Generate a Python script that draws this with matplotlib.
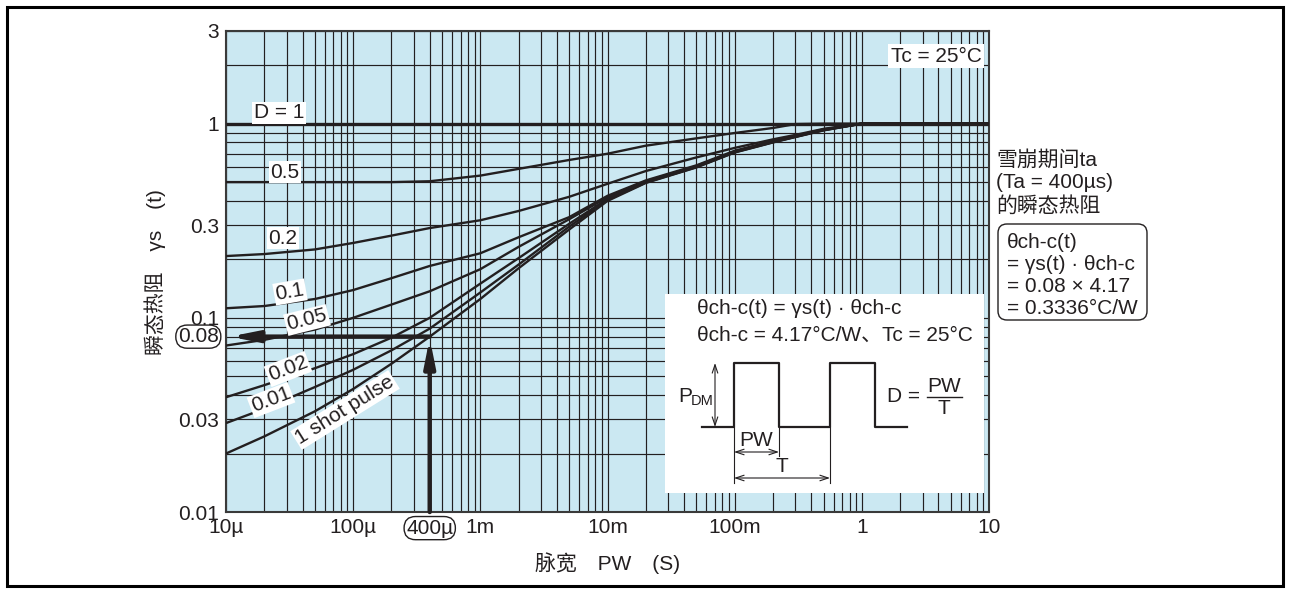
import numpy as np
import matplotlib
matplotlib.use('Agg')
import matplotlib.pyplot as plt
from matplotlib.patches import FancyBboxPatch, Rectangle
from matplotlib.ticker import FixedLocator, NullFormatter
import matplotlib.transforms as mtransforms

plt.rcParams['font.family'] = ['Liberation Sans', 'Noto Sans CJK SC', 'DejaVu Sans']

# ---------------- data ----------------
pw = [1e-5, 2e-5, 5e-5, 1e-4, 2e-4, 4e-4, 1e-3, 2e-3, 5e-3, 1e-2, 2e-2, 5e-2,
      0.1, 0.2, 0.3, 0.5, 1, 10]
r_d1     = [1, 1, 1, 1, 1, 1, 1, 1, 1, 1, 1, 1, 1, 1, 1, 1, 1, 1]
r_d05    = [0.5, 0.5, 0.5, 0.5, 0.5, 0.505, 0.54, 0.585, 0.65, 0.70, 0.77, 0.84,
            0.895, 0.95, 0.995, 1.0, 1.0, 1.0]
r_d02    = [0.208, 0.213, 0.225, 0.243, 0.265, 0.29, 0.318, 0.355, 0.42, 0.49, 0.57,
            0.67, 0.75, 0.83, 0.875, 0.94, 1.0, 1.0]
r_d01    = [0.112, 0.115, 0.125, 0.139, 0.160, 0.185, 0.215, 0.26, 0.33, 0.425, 0.51,
            0.61, 0.725, 0.815, 0.865, 0.935, 1.0, 1.0]
r_d005   = [0.072, 0.077, 0.087, 0.100, 0.117, 0.137, 0.178, 0.232, 0.322, 0.418,
            0.505, 0.605, 0.72, 0.81, 0.86, 0.93, 1.0, 1.0]
r_d002   = [0.039, 0.045, 0.055, 0.065, 0.079, 0.100, 0.150, 0.203, 0.305, 0.41,
            0.50, 0.60, 0.715, 0.805, 0.857, 0.928, 1.0, 1.0]
r_d001   = [0.0287, 0.034, 0.044, 0.054, 0.068, 0.088, 0.135, 0.188, 0.295, 0.405,
            0.497, 0.597, 0.712, 0.802, 0.855, 0.925, 1.0, 1.0]
r_single = [0.020, 0.0245, 0.033, 0.043, 0.058, 0.080, 0.125, 0.18, 0.285, 0.40,
            0.495, 0.595, 0.71, 0.80, 0.853, 0.923, 1.0, 1.0]

x_ticks = [1e-5, 1e-4, 1e-3, 1e-2, 1e-1, 1, 10]
x_ticklabels = ['10µ', '100µ', '1m', '10m', '100m', '1', '10']
y_ticks = [0.01, 0.03, 0.1, 0.3, 1, 3]
y_ticklabels = ['0.01', '0.03', '0.1', '0.3', '1', '3']

ta = 4e-4          # avalanche period 400 µs
rs_ta = 0.08       # read-off value

# ---------------- figure ----------------
W, H = 1289, 592
fig = plt.figure(figsize=(W / 100, H / 100), dpi=100)
ink = '#231f20'
FS = 15

L, R, T, B = 226, 989, 31, 512
ax = fig.add_axes([L / W, 1 - B / H, (R - L) / W, (B - T) / H])
ax.set_facecolor('#cbe8f2')
ax.set_xscale('log')
ax.set_yscale('log')
ax.set_xlim(1e-5, 10)
ax.set_ylim(0.01, 3)

ax.xaxis.set_major_locator(FixedLocator(x_ticks))
ax.xaxis.set_minor_locator(FixedLocator(
    [m * d for d in [1e-5, 1e-4, 1e-3, 1e-2, 1e-1, 1] for m in range(2, 10)]))
ax.set_xticklabels(x_ticklabels)
ax.xaxis.set_minor_formatter(NullFormatter())
ygrid = [m * d for d in [0.01, 0.1] for m in range(1, 10)] + [1, 2, 3]
ax.yaxis.set_major_locator(FixedLocator(y_ticks))
ax.yaxis.set_minor_locator(FixedLocator([v for v in ygrid if v not in y_ticks]))
ax.set_yticklabels(y_ticklabels)
ax.yaxis.set_minor_formatter(NullFormatter())
ax.tick_params(which='both', length=0, labelsize=FS, colors=ink)
ax.tick_params(axis='y', pad=5)
ax.tick_params(axis='x', pad=4)
ax.grid(which='both', color=ink, lw=0.85)
ax.set_axisbelow(True)
for s in ax.spines.values():
    s.set_color('#3a3a3a')
    s.set_linewidth(1.5)

series = [r_d1, r_d05, r_d02, r_d01, r_d005, r_d002, r_d001, r_single]
for i, ys in enumerate(series):
    ax.plot(pw, ys, color=ink, lw=2.4 if i == 0 else 1.7, solid_capstyle='butt',
            zorder=3)

# reading arrows
astyle = '-|>,head_length=1.6,head_width=0.32'
ax.annotate('', xy=(ta, rs_ta * 0.985), xytext=(ta, 0.01),
            arrowprops=dict(arrowstyle=astyle, lw=3.2, color=ink,
                            shrinkA=0, shrinkB=0), zorder=4)
ax.annotate('', xy=(1.07e-5, rs_ta), xytext=(ta, rs_ta),
            arrowprops=dict(arrowstyle=astyle, lw=3.2, color=ink,
                            shrinkA=0, shrinkB=0), zorder=4)

# boxed tick labels
tb_y = mtransforms.blended_transform_factory(ax.transAxes, ax.transData)
ax.text(-0.0095, rs_ta, '0.08', transform=tb_y, ha='right', va='center',
        fontsize=FS, color=ink,
        bbox=dict(boxstyle='round,pad=0.1,rounding_size=0.55', fc='white',
                  ec=ink, lw=1))
tb_x = mtransforms.blended_transform_factory(ax.transData, ax.transAxes)
ax.text(ta, -0.0335, '400µ', transform=tb_x, ha='center', va='center',
        fontsize=FS, color=ink,
        bbox=dict(boxstyle='round,pad=0.1,rounding_size=0.55', fc='white',
                  ec=ink, lw=1))

# ---------------- overlay in pixel coordinates ----------------
ov = fig.add_axes([0, 0, 1, 1], zorder=5)
ov.set_xlim(0, W)
ov.set_ylim(H, 0)
ov.set_axis_off()
ov.patch.set_alpha(0)

ov.add_patch(Rectangle((6.5, 6.5), W - 13, H - 13, fill=False, ec='black', lw=2.2))

wbox = dict(facecolor='white', edgecolor='none', pad=1.0)
curve_text = [('D = 1', 279, 113, 0), ('0.5', 285, 172, 0), ('0.2', 283, 238, 0),
              ('0.1', 290, 292, 10), ('0.05', 307, 320, 14), ('0.02', 288, 369, 21),
              ('0.01', 271, 400, 21), ('1 shot pulse', 345, 410, 32)]
for txt, x, y, rot in curve_text:
    ov.text(x, y, txt, ha='center', va='center', rotation=rot, fontsize=FS,
            color=ink, bbox=wbox, rotation_mode='anchor')

ov.text(936, 56, 'Tc = 25°C', ha='center', va='center', fontsize=FS, color=ink,
        bbox=dict(facecolor='white', edgecolor='none', pad=2.0))

# axis titles
ov.text(155, 272, '瞬态热阻　γs　(t)', rotation=90, ha='center', va='center',
        fontsize=FS, color=ink)
ov.text(608, 563, '脉宽　PW　(S)', ha='center', va='center', fontsize=FS, color=ink)

# right-hand annotation
for txt, y in [('雪崩期间ta', 160), ('(Ta = 400µs)', 183), ('的瞬态热阻', 206)]:
    ov.text(996, y, txt, ha='left', va='center', fontsize=FS, color=ink)
ov.add_patch(FancyBboxPatch((998, 224), 149, 96,
                            boxstyle='round,pad=0,rounding_size=9',
                            fc='white', ec=ink, lw=1))
for txt, y in [('θch-c(t)', 243), ('= γs(t) · θch-c', 265),
               ('= 0.08 × 4.17', 287), ('= 0.3336°C/W', 308)]:
    ov.text(1007, y, txt, ha='left', va='center', fontsize=FS, color=ink)

# inset explanation panel
ov.add_patch(Rectangle((665, 294), 319, 199, fc='white', ec='none'))
ov.text(697, 308, 'θch-c(t) = γs(t) · θch-c', ha='left', va='center',
        fontsize=FS, color=ink)
ov.text(697, 335, 'θch-c = 4.17°C/W、Tc = 25°C', ha='left', va='center',
        fontsize=FS, color=ink)
wx = [702, 734, 734, 779, 779, 830, 830, 875, 875, 907]
wy = [427, 427, 363, 363, 427, 427, 363, 363, 427, 427]
ov.plot(wx, wy, color=ink, lw=1.6)
thin = dict(arrowstyle='<->,head_length=0.6,head_width=0.2', lw=0.8, color=ink,
            shrinkA=0, shrinkB=0)
ov.annotate('', xy=(715, 363), xytext=(715, 427), arrowprops=thin)
ov.text(685, 396, 'P', ha='center', va='center', fontsize=FS, color=ink)
ov.text(702, 401, 'DM', ha='center', va='center', fontsize=10.5, color=ink)
ov.plot([734, 734], [427, 483], color=ink, lw=0.8)
ov.plot([779, 779], [427, 456], color=ink, lw=0.8)
ov.plot([830, 830], [427, 483], color=ink, lw=0.8)
ov.annotate('', xy=(734, 452), xytext=(779, 452), arrowprops=thin)
ov.annotate('', xy=(734, 478), xytext=(830, 478), arrowprops=thin)
ov.text(756, 440, 'PW', ha='center', va='center', fontsize=FS, color=ink)
ov.text(782, 467, 'T', ha='center', va='center', fontsize=FS, color=ink)
ov.text(887, 397, 'D =', ha='left', va='center', fontsize=FS, color=ink)
ov.text(944, 386, 'PW', ha='center', va='center', fontsize=FS, color=ink)
ov.plot([927, 962], [397, 397], color=ink, lw=1)
ov.text(944, 409, 'T', ha='center', va='center', fontsize=FS, color=ink)

fig.savefig('out.png', dpi=100)
